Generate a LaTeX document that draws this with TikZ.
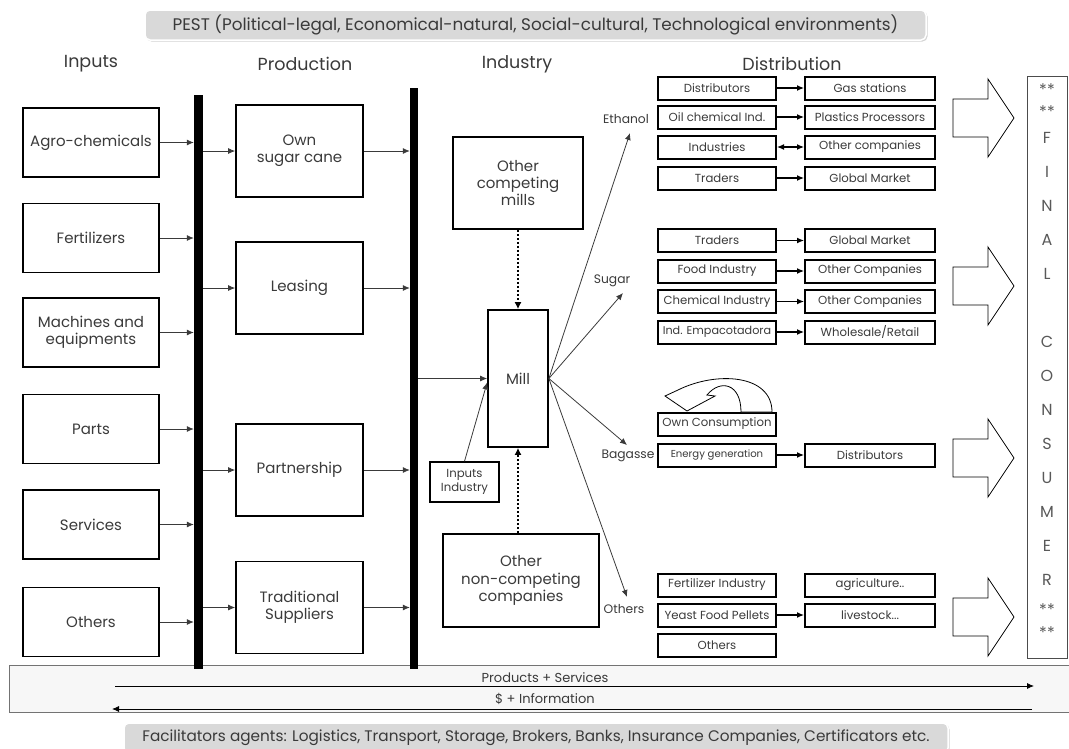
\documentclass[tikz,border=0pt]{standalone}
\usepackage{fontspec}
\setmainfont{Poppins}
\usetikzlibrary{arrows.meta,calc,shadows}
\definecolor{txt}{HTML}{3A3A3A}
\definecolor{bandfill}{HTML}{F7F7F7}
\definecolor{bannerfill}{HTML}{D9D9D9}
\newcommand{\fs}[1]{\fontsize{#1}{\dimexpr#1pt*115/100\relax}\selectfont}
\tikzset{
  base/.style={text=txt, align=center, inner sep=0pt},
  bigbox/.style={base, draw=black, line width=1.7pt, font=\fs{15}},
  inbox/.style={bigbox, minimum width=136pt, minimum height=69pt},
  prodbox/.style={bigbox, minimum width=127pt, minimum height=92pt},
  distbox/.style={base, draw=black, line width=2pt, minimum height=23pt, font=\fs{11.7}},
  lbox/.style={distbox, minimum width=118pt},
  rbox/.style={distbox, minimum width=130pt},
  bar/.style={fill=black, inner sep=0pt, minimum width=9pt},
  flow/.style={draw=txt, line width=0.8pt, -{Latex[length=7pt,width=6pt]}},
  darr/.style={draw=black, line width=1.2pt, -{Latex[length=7pt,width=6pt]}},
  dotarr/.style={draw=black, line width=2pt, dotted, -{Latex[length=7pt,width=7pt]}},
  heading/.style={base, font=\fs{17.5}},
  branch/.style={base, font=\fs{12.3}},
  blockarrow/.style={draw=black, line width=0.8pt, fill=white},
  banner/.style={base, fill=bannerfill, draw=white, line width=1.5pt, rounded corners=5pt,
     drop shadow={shadow xshift=1.5pt, shadow yshift=-1.5pt, opacity=0.35}},
  letter/.style={base, font=\fs{16}, text=black!65},
}
\newcommand{\blockarr}[1]{%
  \draw[blockarrow] (953,#1-19) -- (988,#1-19) -- (988,#1-39) -- (1014,#1) -- (988,#1+39) -- (988,#1+19) -- (953,#1+19) -- cycle;}
\begin{document}
\begin{tikzpicture}[x=1pt,y=-1pt]
\useasboundingbox (0,0) rectangle (1069,748);

% banners
\node[banner, font=\fs{16.8}, minimum width=781pt, minimum height=30pt] (pest) at (535.5,25)
  {PEST (Political-legal, Economical-natural, Social-cultural, Technological environments)};
\node[banner, font=\fs{15.3}, minimum width=824pt, minimum height=30pt] (facil) at (536,738)
  {Facilitators agents: Logistics, Transport, Storage, Brokers, Banks, Insurance Companies, Certificators etc.};

% bottom band
\node[base, draw=black!55, fill=bandfill, line width=1pt, minimum width=1068pt, minimum height=47pt] (band) at (543,688.5) {};
\node[base, font=\fs{13}] (ps) at (545,677.5) {Products + Services};
\node[base, font=\fs{13}] (si) at (545,698.5) {\$ + Information};
\coordinate (psa) at (115,686);
\coordinate (psb) at (1034,686);
\coordinate (sia) at (1032,709);
\coordinate (sib) at (112,709);
\draw[flow, draw=black] (psa) -- (psb);
\draw[flow, draw=black] (sia) -- (sib);

% headings
\node[heading] (hin) at (91,64) {Inputs};
\node[heading] (hpr) at (305,64) {Production};
\node[heading] (hind) at (517,64) {Industry};
\node[heading] (hdis) at (792,64) {Distribution};

% bars
\node[bar, minimum height=574pt] (bar1) at (198.5,382) {};
\node[bar, minimum height=581pt, minimum width=8pt] (bar2) at (414,378.5) {};

% inputs
\node[inbox] (agro) at (91,142.5) {Agro-chemicals};
\node[inbox] (fert) at (91,238) {Fertilizers};
\node[inbox] (mach) at (91,332.5) {Machines and\\equipments};
\node[inbox] (parts) at (91,429) {Parts};
\node[inbox] (serv) at (91,524.5) {Services};
\node[inbox] (oth) at (91,622) {Others};
\foreach \n in {agro,fert,mach,parts,serv,oth}
  \draw[flow] (\n.east) -- (\n.east -| bar1.west);

% production
\node[prodbox] (own) at (299.5,151) {Own\\sugar cane};
\node[prodbox] (lease) at (299.5,288) {Leasing};
\node[prodbox] (part) at (299.5,470) {Partnership};
\node[prodbox] (trad) at (299.5,607.5) {Traditional\\Suppliers};
\foreach \n in {own,lease,part,trad}{
  \draw[flow] (bar1.east |- \n.west) -- (\n.west);
  \draw[flow] (\n.east) -- (\n.east -| bar2.west);
}

% industry
\node[bigbox, minimum width=130pt, minimum height=92pt] (comp) at (518,183) {Other\\competing\\mills};
\node[bigbox, minimum width=60pt, minimum height=137pt] (mill) at (518,378.5) {Mill};
\node[bigbox, font=\fs{11.7}, minimum width=69pt, minimum height=40pt, line width=1.4pt] (inind) at (464.5,482) {Inputs\\Industry};
\node[bigbox, minimum width=156pt, minimum height=93pt] (noncomp) at (521,580.5) {Other\\non-competing\\companies};
\draw[dotarr] (comp.south) -- (mill.north);
\draw[dotarr] (mill.south |- noncomp.north) -- (mill.south);
\draw[flow] (bar2.east |- mill.west) -- (mill.west);
\draw[flow] (inind.north) -- ([yshift=-4pt]mill.west);

% fan
\coordinate (etip) at (630,133);
\coordinate (stip) at (623,293);
\coordinate (btip) at (627,445);
\coordinate (otip) at (627,597);
\foreach \t in {etip,stip,btip,otip}
  \draw[flow] (mill.east) -- (\t);
\node[branch] (leth) at (626,119) {Ethanol};
\node[branch] (lsug) at (612,281) {Sugar};
\node[branch] (lbag) at (628,456) {Bagasse};
\node[branch] (loth) at (624,609) {Others};

% distribution - ethanol
\node[lbox] (e1l) at (717,88) {Distributors};
\node[rbox] (e1r) at (870,88) {Gas stations};
\node[lbox] (e2l) at (717,117) {Oil chemical Ind.};
\node[rbox] (e2r) at (870,117) {Plastics Processors};
\node[lbox] (e3l) at (717,147) {Industries};
\node[rbox] (e3r) at (870,147) {Other companies};
\node[lbox] (e4l) at (717,178) {Traders};
\node[rbox] (e4r) at (870,178) {Global Market};
% sugar
\node[lbox] (s1l) at (717,240.5) {Traders};
\node[rbox] (s1r) at (870,240.5) {Global Market};
\node[lbox] (s2l) at (717,271) {Food Industry};
\node[rbox] (s2r) at (870,271) {Other Companies};
\node[lbox] (s3l) at (717,301.5) {Chemical Industry};
\node[rbox] (s3r) at (870,301.5) {Other Companies};
\node[lbox, font=\fs{11.2}] (s4l) at (717,332) {Ind. Empacotadora};
\node[rbox] (s4r) at (870,332) {Wholesale/Retail};
% bagasse
\node[lbox] (b0) at (717,424) {Own Consumption};
\node[lbox, font=\fs{10.1}] (b1l) at (717,455) {Energy generation};
\node[rbox] (b1r) at (870,455) {Distributors};
% others
\node[lbox] (o1l) at (717,585) {Fertilizer Industry};
\node[rbox] (o1r) at (870,585) {agriculture..};
\node[lbox] (o2l) at (717,615) {Yeast Food Pellets};
\node[rbox] (o2r) at (870,615) {livestock...};
\node[lbox] (o3l) at (717,645) {Others};

\foreach \r in {e1,e2,e4,s1,s2,s3,s4,b1,o2}
  \draw[darr] (\r l.east) -- (\r r.west);
\draw[darr, {Latex[length=7pt,width=6pt]}-{Latex[length=7pt,width=6pt]}] (e3l.east) -- (e3r.west);

% own consumption curved arrow
\draw[blockarrow] (772,412) .. controls (772,374) and (716,371) .. (678,390)
  -- (665,396) -- (687,411) -- (715,396) -- (707,395)
  .. controls (720,379) and (741,383) .. (741,412) -- cycle;

% block arrows
\blockarr{118}
\blockarr{286}
\blockarr{458}
\blockarr{617}

% final consumer
\node[base, draw=black!70, line width=1pt, minimum width=40pt, minimum height=582pt] (cons) at (1047,367) {};
\foreach \c/\y [count=\i] in {{**}/90,{**}/112,F/138,I/172,N/206,A/240,L/274,C/342,O/376,N/410,S/444,U/478,M/512,E/546,R/580,{**}/610,{**}/633}
  \node[letter] (c\i) at (1047,\y) {\c};

\end{tikzpicture}
\end{document}
